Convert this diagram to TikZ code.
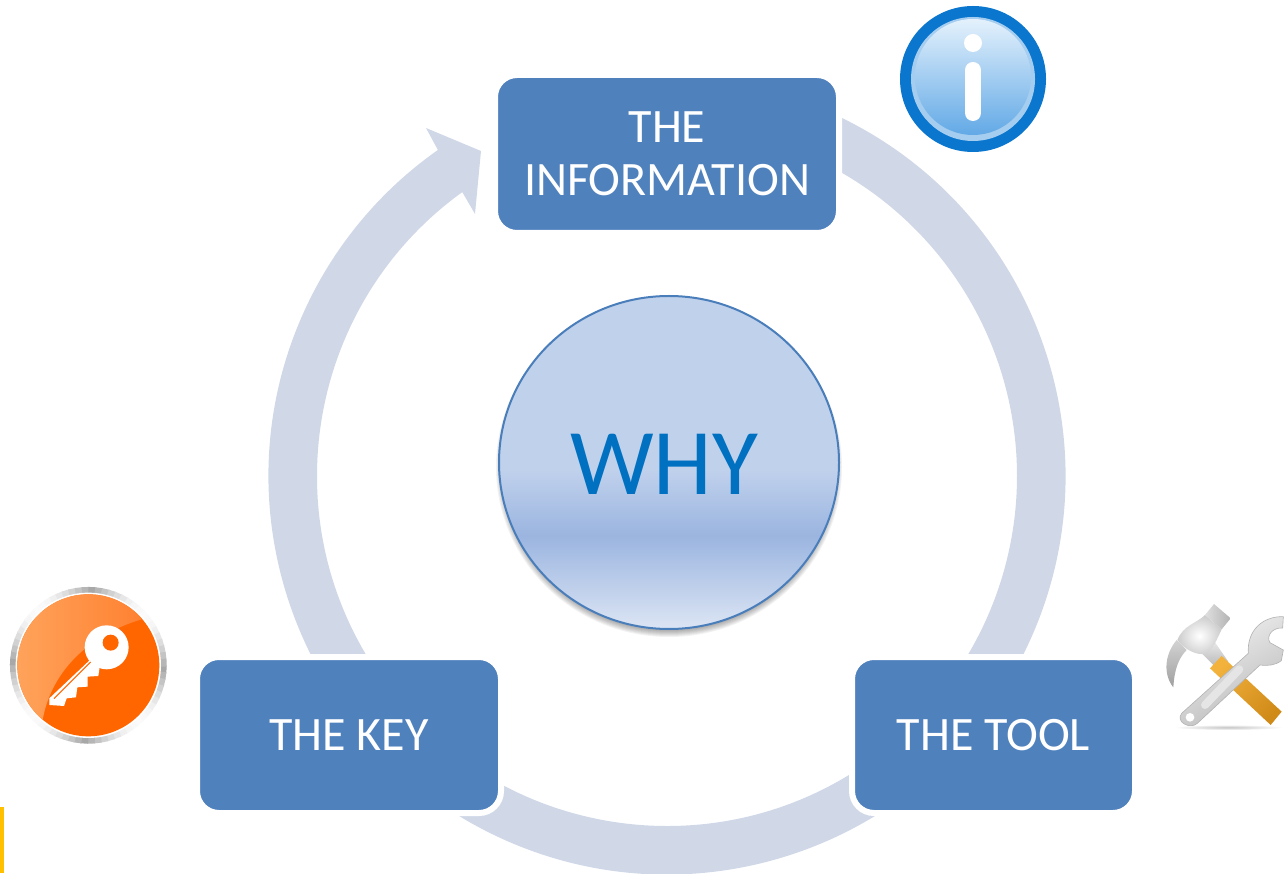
\documentclass[tikz,border=0pt]{standalone}
\usepackage{fontspec}
\setmainfont{Carlito}
\usetikzlibrary{shadows}
\usetikzlibrary{positioning}
\usetikzlibrary{calc}
\usetikzlibrary{shapes.geometric}
\definecolor{ringblue}{HTML}{D0D8E8}
\definecolor{boxblue}{HTML}{4F81BD}
\definecolor{whyline}{HTML}{4A7EBB}
\definecolor{whytext}{HTML}{0070C0}
\definecolor{whytop}{HTML}{C0D1EC}
\definecolor{whymid}{HTML}{9BB5E0}
\definecolor{whylow}{HTML}{DCE5F4}
\definecolor{infoblue}{HTML}{0A76CE}
\definecolor{infotop}{HTML}{E4F1FC}
\definecolor{infolow}{HTML}{62A9E6}
\definecolor{inforim}{HTML}{A5CDEF}
\definecolor{keyorange}{HTML}{FF6600}
\definecolor{keylight}{HTML}{FFA45C}
\definecolor{keymid}{HTML}{FF8030}
\definecolor{handlelight}{HTML}{F2B23C}
\definecolor{handledark}{HTML}{D08A18}
\definecolor{edgeyellow}{HTML}{FFC000}
\definecolor{bezelgrey}{HTML}{A8A8A8}
\pgfdeclareverticalshading{whyfill}{100bp}{color(0bp)=(whylow); color(25bp)=(whylow); color(39bp)=(whymid); color(49bp)=(whytop); color(100bp)=(whytop)}
\tikzstyle{stagebox}=[rectangle,fill=boxblue,draw=white,line width=6pt,rounded corners=22pt,inner sep=0pt,align=center,text=white,font=\fontsize{48}{53}\selectfont]
\tikzstyle{whycircle}=[ellipse,shading=whyfill,draw=whyline,line width=2pt,minimum width=340pt,minimum height=333pt,inner sep=0pt,text=whytext,font=\fontsize{94}{100}\selectfont]
\tikzstyle{steel}=[top color=gray!15,bottom color=gray!60,draw=none]
\begin{document}
\begin{tikzpicture}[x=1pt,y=1pt]
    \useasboundingbox (0,0) rectangle (1284,873);
    \clip (0,0) rectangle (1284,873);

%ring
    \coordinate (ringcentre) at (667,397);
    \fill[ringblue] ($(ringcentre)+(64:398.5)$) arc[start angle=64,end angle=-234.9,radius=398.5]
        -- (426,745) -- (481,722) -- (475,659) -- ($(ringcentre)+(125.8:350)$)
        arc[start angle=-234.2,end angle=60,radius=350] -- cycle;

%boxes
    \foreach \pos/\name/\wide/\tall/\label in {{(667,719)/information/344/158/THE\\INFORMATION}, {(349,138)/key/304/156/THE KEY}, {(993.5,138)/tool/283/156/THE TOOL}}
        \node[stagebox,minimum width=\wide pt,minimum height=\tall pt] (\name) at \pos {\label};

%centre
    \foreach \grow in {0,1,...,6}
        \fill[black,opacity=.05] (669,406) ellipse [x radius=167+\grow,y radius=164+\grow];
    \node[whycircle] (why) at (669,410.5) {\raisebox{0pt}[64pt][0pt]{WHY}\rule{10pt}{0pt}};

%info icon
    \fill[infoblue] (973,794) circle (73);
    \fill[inforim] (973,794) circle (62);
    \shade[top color=infotop,bottom color=infolow] (973,796) circle (58);
    \fill[white] (973,830) circle (9);
    \draw[white,line width=16pt,line cap=round] (973,803) -- (973,760);

%key icon
    \begin{scope}[shift={(0,303)},x=0.3333pt,y=-0.3333pt]
        \foreach \bend in {0,5,...,355} {
            \pgfmathsetmacro{\shine}{95*abs(sin(2*\bend))}
            \draw[white!\shine!bezelgrey,line width=7.5pt] ($(265,286)+(\bend:224)$) -- ($(265,286)+(\bend+6:224)$);
        }
        \fill[white] (265,286) circle (218);
        \fill[keyorange] (265,286) circle (213);
        \begin{scope}
            \clip (265,286) circle (213);
            \shade[left color=keylight,right color=keymid] (40,60) -- (440,60) -- (425,148) .. controls (250,200) and (150,320) .. (128,450) -- (40,450) -- cycle;
        \end{scope}
        \fill[white] (272,268) -- (148,385) -- (148,405) -- (192,408) -- (200,385) -- (228,382) -- (232,352) -- (263,350) -- (263,320) -- (295,318) -- (300,285) -- cycle;
        \fill[white] (320,232) circle (66);
        \fill[keyorange] (332,218) circle (24);
        \draw[keyorange,line width=1.2pt] (272,276) -- (162,386);
    \end{scope}

%tool icon
    \begin{scope}[shift={(1140,283)},x=0.3333pt,y=-0.3333pt]
        \shade[inner color=gray!45,outer color=white] (265,412) ellipse (165 and 8);
        \shade[steel] (180,185) -- (220,150) -- (265,215) -- (235,240) -- cycle;
        \shade[top color=gray!35,bottom color=gray!75] (110,150) .. controls (72,195) and (70,255) .. (100,292) .. controls (103,240) and (115,205) .. (140,180) -- cycle;
        \shade[inner color=white,outer color=gray!40] (195,75) .. controls (170,100) and (130,105) .. (112,150) .. controls (130,175) and (170,200) .. (200,190) .. controls (220,175) and (230,150) .. (245,118) -- cycle;
        \shade[left color=gray!25,right color=gray!60] (195,75) -- (222,42) -- (272,85) -- (245,118) -- cycle;
        \shade[left color=handlelight,right color=handledark,shading angle=45] (210,235) -- (245,198) -- (425,365) -- (392,405) -- cycle;
        \shade[top color=gray!10,bottom color=gray!55,shading angle=30,draw=gray!60,line width=.6pt] (125,370) -- (325,190) .. controls (320,120) and (370,78) .. (430,80) -- (428,114) .. controls (395,112) and (378,140) .. (390,158) -- (430,180) -- (424,212) .. controls (405,226) and (385,228) .. (360,225) -- (172,400) .. controls (150,420) and (105,395) .. (125,370) -- cycle;
        \fill[white] (150,382) circle (13);
        \draw[gray!20,line width=8pt,line cap=round] (195,345) -- (298,238);
    \end{scope}

%edge mark
    \fill[edgeyellow] (0,0) rectangle (4,66);

\end{tikzpicture}
\end{document}
